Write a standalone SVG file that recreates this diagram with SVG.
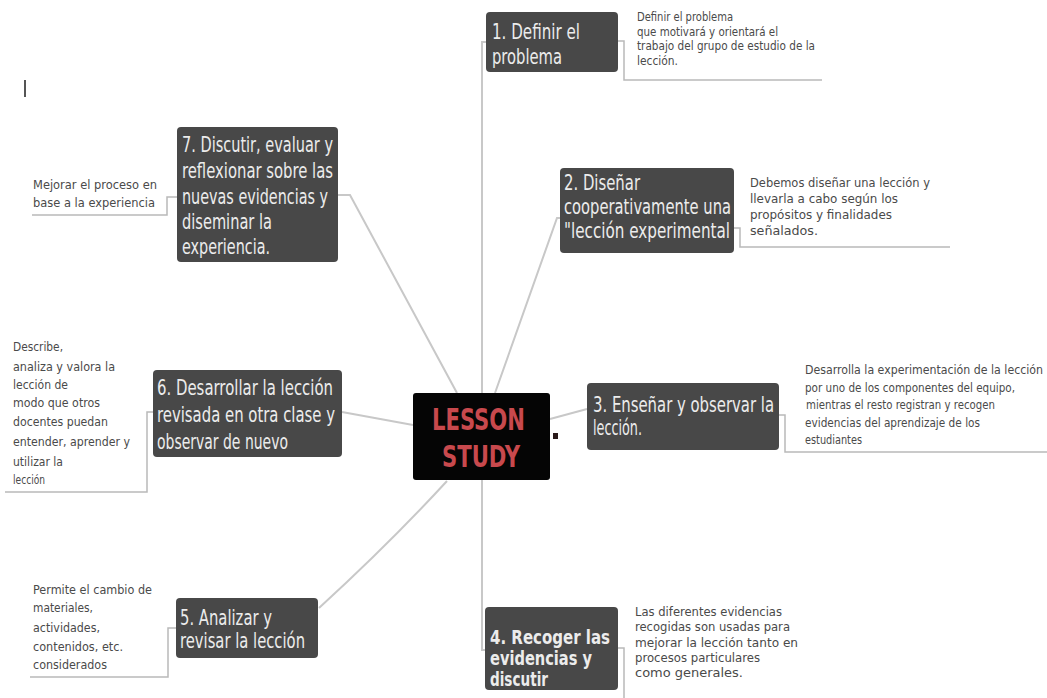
<svg xmlns="http://www.w3.org/2000/svg" width="1047" height="698" viewBox="0 0 1047 698">
<style>
.box{fill:#484848;}
.nt{font-family:"DejaVu Sans Condensed","DejaVu Sans",sans-serif;font-size:21px;fill:#ececec;}
.nb{font-weight:bold;font-size:19px;}
.dt{font-family:"DejaVu Sans Condensed","DejaVu Sans",sans-serif;font-size:11.5px;fill:#4a4a4a;}
.conn{stroke:#c8c8c8;stroke-width:2;fill:none;}
.br{stroke:#b9b9b9;stroke-width:1.5;fill:none;}
.ct{font-family:"DejaVu Sans Condensed","DejaVu Sans",sans-serif;font-size:31px;font-weight:bold;fill:#c8494d;}
</style>
<rect width="1047" height="698" fill="#ffffff"/>
<line x1="25" y1="80" x2="25" y2="97" stroke="#555" stroke-width="2"/>
<g id="connectors">
<path class="conn" d="M482,393 V42 H486"/>
<path class="conn" d="M495,393 L557,218 H561"/>
<path class="conn" d="M550,419 L587,409"/>
<path class="conn" d="M482,480 V650 H486"/>
<path class="conn" d="M447,481 Q390,543 319,608"/>
<path class="conn" d="M413,425 L342,412"/>
<path class="conn" d="M457,393 L350,195 H338"/>
<path class="br" d="M618,41 H624 V80 H822"/>
<path class="br" d="M734,228 H740 V247 H950"/>
<path class="br" d="M779,415 H785 V452 H1047"/>
<path class="br" d="M618,648 H624 V698"/>
<path class="br" d="M176,628 H168 V677 H30"/>
<path class="br" d="M153,412 H147 V492 H5"/>
<path class="br" d="M177,197 H167 V215 H32"/>
</g>
<g id="center">
<rect x="413" y="393" width="137" height="87" rx="3" fill="#050505"/>
<text class="ct" x="432" y="430" textLength="93" lengthAdjust="spacingAndGlyphs">LESSON</text>
<text class="ct" x="442" y="467" textLength="78" lengthAdjust="spacingAndGlyphs">STUDY</text>
<rect x="553" y="433" width="5" height="6" fill="#2a1a1a"/>
</g>
<g id="node1">
<rect class="box" x="486" y="12" width="132" height="60" rx="4"/>
<text class="nt" x="492" y="39" textLength="88" lengthAdjust="spacingAndGlyphs">1. Definir el</text>
<text class="nt" x="492" y="64" textLength="70" lengthAdjust="spacingAndGlyphs">problema</text>
</g>
<g id="desc1">
<text class="dt" x="637" y="21" textLength="96" lengthAdjust="spacingAndGlyphs">Definir el problema</text>
<text class="dt" x="637" y="35.5" textLength="141" lengthAdjust="spacingAndGlyphs">que motivará y orientará el</text>
<text class="dt" x="637" y="50" textLength="178" lengthAdjust="spacingAndGlyphs">trabajo del grupo de estudio de la</text>
<text class="dt" x="637" y="64.5" textLength="41" lengthAdjust="spacingAndGlyphs">lección.</text>
</g>
<g id="node2">
<rect class="box" x="560" y="168" width="174" height="85" rx="4"/>
<text class="nt" x="564" y="190" textLength="76" lengthAdjust="spacingAndGlyphs">2. Diseñar</text>
<text class="nt" x="564" y="214" textLength="167" lengthAdjust="spacingAndGlyphs">cooperativamente una</text>
<text class="nt" x="564" y="238" textLength="166" lengthAdjust="spacingAndGlyphs">"lección experimental</text>
</g>
<g id="desc2">
<text class="dt" x="750" y="187" textLength="180" lengthAdjust="spacingAndGlyphs">Debemos diseñar una lección y</text>
<text class="dt" x="750" y="203" textLength="148" lengthAdjust="spacingAndGlyphs">llevarla a cabo según los</text>
<text class="dt" x="750" y="219" textLength="142" lengthAdjust="spacingAndGlyphs">propósitos y finalidades</text>
<text class="dt" x="750" y="235" textLength="68" lengthAdjust="spacingAndGlyphs">señalados.</text>
</g>
<g id="node3">
<rect class="box" x="587" y="383" width="192" height="67" rx="4"/>
<text class="nt" x="593" y="412" textLength="181" lengthAdjust="spacingAndGlyphs">3. Enseñar y observar la</text>
<text class="nt" x="593" y="435" textLength="49" lengthAdjust="spacingAndGlyphs">lección.</text>
</g>
<g id="desc3">
<text class="dt" x="805" y="374" textLength="238" lengthAdjust="spacingAndGlyphs">Desarrolla la experimentación de la lección</text>
<text class="dt" x="805" y="392" textLength="210" lengthAdjust="spacingAndGlyphs">por uno de los componentes del equipo,</text>
<text class="dt" x="806" y="409" textLength="189" lengthAdjust="spacingAndGlyphs">mientras el resto registran y recogen</text>
<text class="dt" x="805" y="427" textLength="175" lengthAdjust="spacingAndGlyphs">evidencias del aprendizaje de los</text>
<text class="dt" x="805" y="444" textLength="57" lengthAdjust="spacingAndGlyphs">estudiantes</text>
</g>
<g id="node4">
<rect class="box" x="485" y="607" width="133" height="83" rx="4"/>
<text class="nt nb" x="490" y="644" textLength="120" lengthAdjust="spacingAndGlyphs">4. Recoger las</text>
<text class="nt nb" x="490" y="665" textLength="102" lengthAdjust="spacingAndGlyphs">evidencias y</text>
<text class="nt nb" x="490" y="686" textLength="58" lengthAdjust="spacingAndGlyphs">discutir</text>
</g>
<g id="desc4">
<text class="dt" x="635" y="616" textLength="147" lengthAdjust="spacingAndGlyphs">Las diferentes evidencias</text>
<text class="dt" x="635" y="631" textLength="155" lengthAdjust="spacingAndGlyphs">recogidas son usadas para</text>
<text class="dt" x="635" y="647" textLength="163" lengthAdjust="spacingAndGlyphs">mejorar la lección tanto en</text>
<text class="dt" x="635" y="662" textLength="125" lengthAdjust="spacingAndGlyphs">procesos particulares</text>
<text class="dt" x="635" y="677" textLength="108" lengthAdjust="spacingAndGlyphs">como generales.</text>
</g>
<g id="node5">
<rect class="box" x="176" y="598" width="142" height="60" rx="4"/>
<text class="nt" x="180" y="625" textLength="92" lengthAdjust="spacingAndGlyphs">5. Analizar y</text>
<text class="nt" x="180" y="648" textLength="125" lengthAdjust="spacingAndGlyphs">revisar la lección</text>
</g>
<g id="desc5">
<text class="dt" x="33" y="594" textLength="119" lengthAdjust="spacingAndGlyphs">Permite el cambio de</text>
<text class="dt" x="33" y="612" textLength="60" lengthAdjust="spacingAndGlyphs">materiales,</text>
<text class="dt" x="33" y="632" textLength="67" lengthAdjust="spacingAndGlyphs">actividades,</text>
<text class="dt" x="33" y="651" textLength="90" lengthAdjust="spacingAndGlyphs">contenidos, etc.</text>
<text class="dt" x="33" y="669" textLength="74" lengthAdjust="spacingAndGlyphs">considerados</text>
</g>
<g id="node6">
<rect class="box" x="153" y="370" width="189" height="87" rx="4"/>
<text class="nt" x="157" y="395" textLength="176" lengthAdjust="spacingAndGlyphs">6. Desarrollar la lección</text>
<text class="nt" x="157" y="422" textLength="178" lengthAdjust="spacingAndGlyphs">revisada en otra clase y</text>
<text class="nt" x="157" y="449" textLength="131" lengthAdjust="spacingAndGlyphs">observar de nuevo</text>
</g>
<g id="desc6">
<text class="dt" x="13" y="351" textLength="50" lengthAdjust="spacingAndGlyphs">Describe,</text>
<text class="dt" x="13" y="371" textLength="102" lengthAdjust="spacingAndGlyphs">analiza y valora la</text>
<text class="dt" x="13" y="389" textLength="55" lengthAdjust="spacingAndGlyphs">lección de</text>
<text class="dt" x="13" y="407" textLength="87" lengthAdjust="spacingAndGlyphs">modo que otros</text>
<text class="dt" x="13" y="426" textLength="95" lengthAdjust="spacingAndGlyphs">docentes puedan</text>
<text class="dt" x="13" y="446" textLength="117" lengthAdjust="spacingAndGlyphs">entender, aprender y</text>
<text class="dt" x="13" y="466" textLength="50" lengthAdjust="spacingAndGlyphs">utilizar la</text>
<text class="dt" x="13" y="484" textLength="32" lengthAdjust="spacingAndGlyphs">lección</text>
</g>
<g id="node7">
<rect class="box" x="177" y="127" width="161" height="135" rx="4"/>
<text class="nt" x="182" y="152" textLength="151" lengthAdjust="spacingAndGlyphs">7. Discutir, evaluar y</text>
<text class="nt" x="182" y="178" textLength="151" lengthAdjust="spacingAndGlyphs">reflexionar sobre las</text>
<text class="nt" x="182" y="204" textLength="146" lengthAdjust="spacingAndGlyphs">nuevas evidencias y</text>
<text class="nt" x="182" y="229" textLength="90" lengthAdjust="spacingAndGlyphs">diseminar la</text>
<text class="nt" x="182" y="254" textLength="88" lengthAdjust="spacingAndGlyphs">experiencia.</text>
</g>
<g id="desc7">
<text class="dt" x="33" y="189" textLength="124" lengthAdjust="spacingAndGlyphs">Mejorar el proceso en</text>
<text class="dt" x="33" y="207" textLength="122" lengthAdjust="spacingAndGlyphs">base a la experiencia</text>
</g>
</svg>
